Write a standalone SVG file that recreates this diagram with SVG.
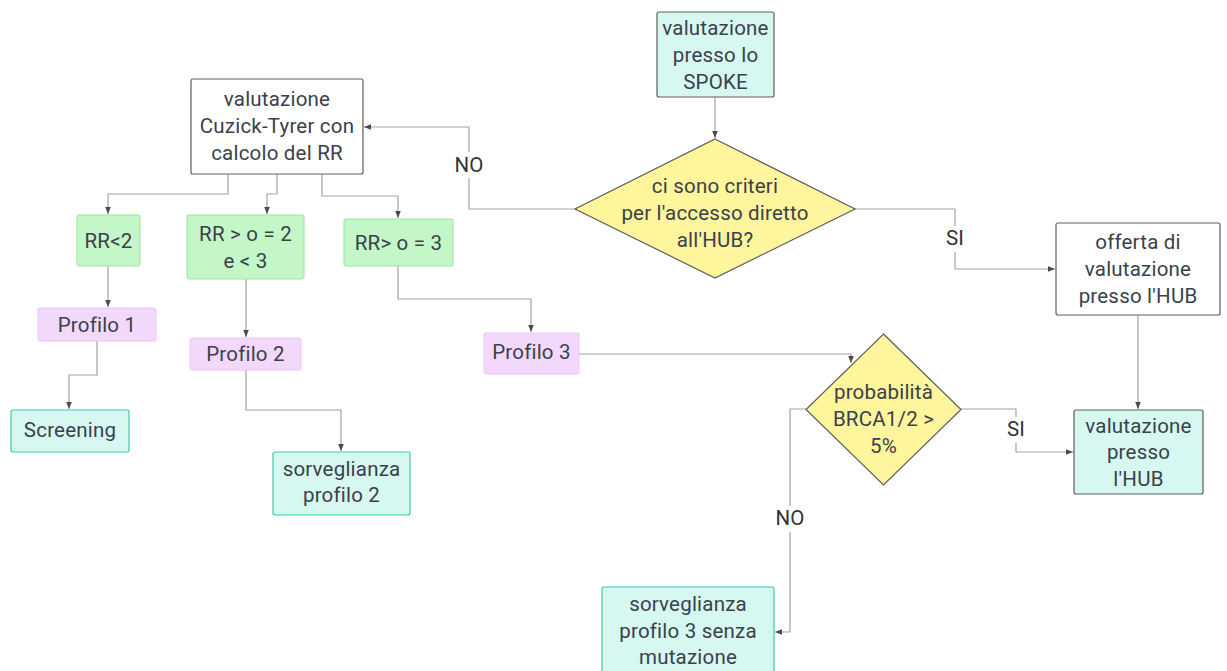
<svg xmlns="http://www.w3.org/2000/svg" width="1227" height="671" viewBox="0 0 1227 671">
<style>
text{font-family:Roboto,"Liberation Sans",sans-serif;font-size:20.5px;letter-spacing:0.2px;fill:#3a414a;text-anchor:middle;dominant-baseline:central}
.w{fill:#ffffff;stroke:#5e5e5e;stroke-width:1.2}
.g{fill:#c3f7c8;stroke:#9ae3a0;stroke-width:1}
.p{fill:#f2d9fc;stroke:#eec2fb;stroke-width:1}
.t{fill:#d6f8f1;stroke:#3ccbae;stroke-width:1.2}
.tg{fill:#d6f8f1;stroke:#5e5e5e;stroke-width:1.2}
.y{fill:#fff59d;stroke:#5e5e5e;stroke-width:1.2}
.c{fill:none;stroke:#a3a3a3;stroke-width:1.2;stroke-linejoin:round}
.lbl{fill:#333333}
</style>
<defs>
<marker id="a" viewBox="0 0 10 10" refX="10" refY="5" markerWidth="7" markerHeight="7" markerUnits="userSpaceOnUse" orient="auto">
<path d="M0,1 L10,5 L0,9 z" fill="#4a4a4a"/>
</marker>
</defs>
<rect width="1227" height="671" fill="#ffffff"/>
<g id="connectors">
<path class="c" d="M228,174 V194 H108 V214" marker-end="url(#a)"/>
<path class="c" d="M277,174 V194 H267 V214" marker-end="url(#a)"/>
<path class="c" d="M322,174 V196 H398 V218" marker-end="url(#a)"/>
<path class="c" d="M108,266 V307" marker-end="url(#a)"/>
<path class="c" d="M246,279 V337" marker-end="url(#a)"/>
<path class="c" d="M97,341 V375 H69 V409" marker-end="url(#a)"/>
<path class="c" d="M246,370 V410 H341 V451" marker-end="url(#a)"/>
<path class="c" d="M398,266 V299 H531 V332" marker-end="url(#a)"/>
<path class="c" d="M579,354 H851 V363" marker-end="url(#a)"/>
<path class="c" d="M806,409 H790 V632 H775" marker-end="url(#a)"/>
<path class="c" d="M961,409 H1016 V452 H1073" marker-end="url(#a)"/>
<path class="c" d="M1138,315 V409" marker-end="url(#a)"/>
<path class="c" d="M715,97 V138" marker-end="url(#a)"/>
<path class="c" d="M575,209 H469 V127 H364" marker-end="url(#a)"/>
<path class="c" d="M855,209 H955 V269 H1055" marker-end="url(#a)"/>
<rect x="451" y="152" width="37" height="26" fill="#ffffff"/>
<text class="lbl" x="469" y="165">NO</text>
<rect x="941" y="226" width="28" height="26" fill="#ffffff"/>
<text class="lbl" x="955" y="238">SI</text>
<rect x="1002" y="417" width="28" height="26" fill="#ffffff"/>
<text class="lbl" x="1016" y="429">SI</text>
<rect x="771" y="506" width="38" height="26" fill="#ffffff"/>
<text class="lbl" x="790" y="518">NO</text>
</g>
<g id="spoke">
<rect class="tg" x="657" y="12" width="117" height="85" rx="2"/>
<text x="715.5" y="28">valutazione</text>
<text x="715.5" y="55">presso lo</text>
<text x="715.5" y="82">SPOKE</text>
</g>
<g id="criteri">
<polygon class="y" points="715,139 855,209 715,278 575,209"/>
<text x="715" y="186">ci sono criteri</text>
<text x="715" y="213">per l'accesso diretto</text>
<text x="715" y="240">all'HUB?</text>
</g>
<g id="cuzick">
<rect class="w" x="191" y="79" width="172" height="95" rx="2"/>
<text x="277" y="99">valutazione</text>
<text x="277" y="126">Cuzick-Tyrer con</text>
<text x="277" y="153">calcolo del RR</text>
</g>
<g id="rr2">
<rect class="g" x="77" y="215" width="63" height="51" rx="2"/>
<text x="108.5" y="240.5">RR&lt;2</text>
</g>
<g id="rr23">
<rect class="g" x="187" y="215" width="117" height="64" rx="2"/>
<text x="245.5" y="233.5">RR &gt; o = 2</text>
<text x="245.5" y="260.5">e &lt; 3</text>
</g>
<g id="rr3">
<rect class="g" x="344" y="219" width="109" height="47" rx="2"/>
<text x="398.5" y="242.5">RR&gt; o = 3</text>
</g>
<g id="profilo1">
<rect class="p" x="38" y="308" width="118" height="33" rx="2"/>
<text x="97" y="324.5">Profilo 1</text>
</g>
<g id="profilo2">
<rect class="p" x="190" y="338" width="111" height="32" rx="2"/>
<text x="245.5" y="354">Profilo 2</text>
</g>
<g id="profilo3">
<rect class="p" x="484" y="333" width="95" height="41" rx="2"/>
<text x="531.5" y="352">Profilo 3</text>
</g>
<g id="screening">
<rect class="t" x="11" y="410" width="118" height="42" rx="2"/>
<text x="70" y="429.5">Screening</text>
</g>
<g id="sorv2">
<rect class="t" x="273" y="452" width="137" height="63" rx="2"/>
<text x="341.5" y="469">sorveglianza</text>
<text x="341.5" y="495">profilo 2</text>
</g>
<g id="brca">
<polygon class="y" points="883.5,334 961,409.5 883.5,485 806,409.5"/>
<text x="883.5" y="392">probabilità</text>
<text x="883.5" y="419">BRCA1/2 &gt;</text>
<text x="883.5" y="446">5%</text>
</g>
<g id="sorv3">
<rect class="t" x="602" y="587" width="172" height="100" rx="2"/>
<text x="688" y="604">sorveglianza</text>
<text x="688" y="631">profilo 3 senza</text>
<text x="688" y="657">mutazione</text>
</g>
<g id="offerta">
<rect class="w" x="1056" y="223" width="164" height="92" rx="2"/>
<text x="1138" y="242">offerta di</text>
<text x="1138" y="269">valutazione</text>
<text x="1138" y="296">presso l'HUB</text>
</g>
<g id="hub">
<rect class="tg" x="1074" y="410" width="129" height="84" rx="2"/>
<text x="1138.5" y="426">valutazione</text>
<text x="1138.5" y="452">presso</text>
<text x="1138.5" y="479">l'HUB</text>
</g>
</svg>
